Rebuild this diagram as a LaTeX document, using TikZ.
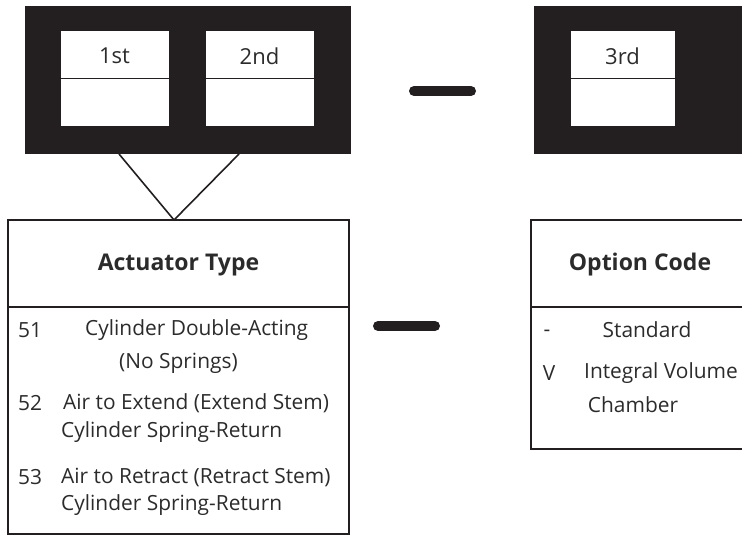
\documentclass[tikz,border=0pt]{standalone}
\usepackage{fontspec}
\setmainfont{Open Sans}
\definecolor{ink}{HTML}{231F20}
\definecolor{txt}{HTML}{2B2B2B}
\begin{document}
\begin{tikzpicture}[x=1pt,y=-1pt,
  blk/.style={fill=ink,draw=none,inner sep=0pt,minimum width=#1,minimum height=148},
  cellhalf/.style={fill=white,draw=ink,line width=0.8pt,inner sep=0pt,minimum width=#1,minimum height=48,font=\fontsize{22}{24}\selectfont,text=txt},
  tbl/.style={draw=ink,line width=1.2pt,fill=none,inner sep=0pt},
  ttl/.style={font=\fontsize{23}{26}\bfseries\selectfont,text=txt,inner sep=0pt},
  body/.style={font=\fontsize{20.9}{24}\selectfont,text=txt,inner sep=0pt},
  dashbar/.style={line width=10pt,line cap=round,draw=ink},
  conn/.style={draw=ink,line width=1.6pt}]
\clip (0,0) rectangle (742,537);
% top left block
\node[blk=326] (blackL) at (187.5,80) {};
\node[cellhalf=109] (c1a) at (114.5,54) {};
\node[cellhalf=109] (c1b) at (114.5,102) {};
\node[cellhalf=109] (c2a) at (259.5,54) {};
\node[cellhalf=109] (c2b) at (259.5,102) {};
\node[cellhalf=1,draw=none,fill=none] (l1) at (114.5,56) {1st};
\node[cellhalf=1,draw=none,fill=none] (l2) at (259.5,56) {2nd};
% top right block
\node[blk=216] (blackR) at (642,80) {};
\node[cellhalf=105] (c3a) at (622.5,54) {};
\node[cellhalf=105] (c3b) at (622.5,102) {};
\node[cellhalf=1,draw=none,fill=none] (l3) at (622.5,56) {3rd};
% dashes
\coordinate (d1a) at (414,91); \coordinate (d1b) at (471,91);
\draw[dashbar] (d1a) -- (d1b);
\coordinate (d2a) at (378,326); \coordinate (d2b) at (435,326);
\draw[dashbar] (d2a) -- (d2b);
% actuator table
\node[tbl,minimum width=341,minimum height=314] (act) at (178.5,377) {};
\draw[ink,line width=1.2pt] (act.west |- 0,307) -- (act.east |- 0,307);
\node[ttl] (actT) at (178.5,265) {Actuator Type};
% connector
\coordinate (tl) at (119,154); \coordinate (tr) at (239,154); \coordinate (apex) at (174,220);
\draw[conn,line join=miter] (tl) -- (apex) -- (tr);
% actuator items
\node[body,anchor=west] (n51) at (18,330) {51};
\node[body,anchor=west] (t51a) at (85,330) {Cylinder Double-Acting};
\node[body,anchor=west] (t51b) at (119,363) {(No Springs)};
\node[body,anchor=west] (n52) at (18,403) {52};
\node[body,anchor=west] (t52a) at (63,403) {Air to Extend (Extend Stem)};
\node[body,anchor=west] (t52b) at (61,432) {Cylinder Spring-Return};
\node[body,anchor=west] (n53) at (18,477) {53};
\node[body,anchor=west] (t53a) at (61,477) {Air to Retract (Retract Stem)};
\node[body,anchor=west] (t53b) at (61,505) {Cylinder Spring-Return};
% option table
\node[tbl,minimum width=240,minimum height=229] (opt) at (651,334.5) {};
\draw[ink,line width=1.2pt] (opt.west |- 0,307) -- (opt.east |- 0,307);
\node[ttl] (optT) at (640,265) {Option Code};
\node[body] (oDash) at (547,333) {-};
\node[body] (oStd) at (647,330) {Standard};
\node[body] (oV) at (549,373) {V};
\node[body,anchor=west] (oIV) at (584,373) {Integral Volume};
\node[body] (oCh) at (633,405) {Chamber};
\end{tikzpicture}
\end{document}
